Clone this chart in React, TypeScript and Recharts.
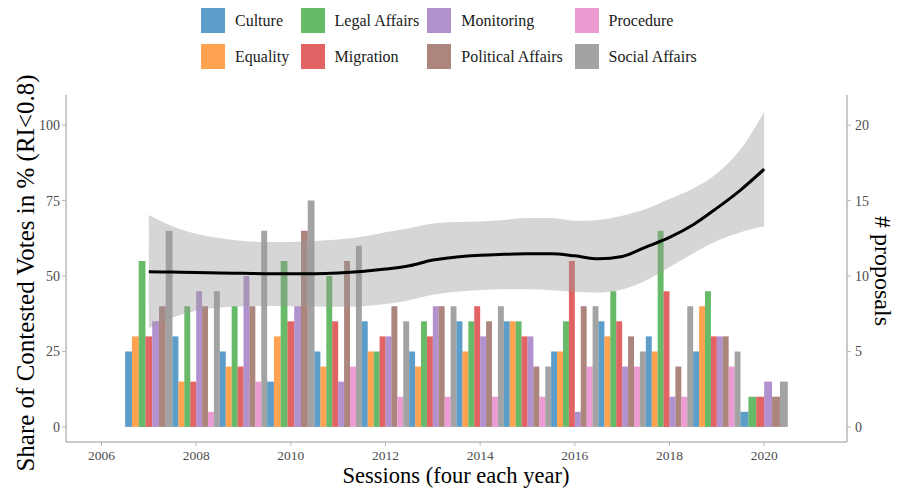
import React from "react";
import {
  ComposedChart,
  Area,
  Line,
  XAxis,
  YAxis,
  ReferenceArea,
  Label,
} from "recharts";

const FONT = "'Liberation Serif', 'DejaVu Serif', serif";

// proposals per year and policy area (0 = none that year)
const years = [2007, 2008, 2009, 2010, 2011, 2012, 2013, 2014, 2015, 2016, 2017, 2018, 2019, 2020];
const categories = [
  "Culture",
  "Equality",
  "Legal Affairs",
  "Migration",
  "Monitoring",
  "Political Affairs",
  "Procedure",
  "Social Affairs",
];
const colors = ["#1f77b4", "#ff7f0e", "#2ca02c", "#d62728", "#9467bd", "#8c564b", "#e377c2", "#7f7f7f"];

const culture = [5, 6, 5, 3, 5, 7, 5, 7, 7, 5, 7, 6, 5, 1];
const equality = [6, 3, 4, 6, 4, 5, 4, 5, 7, 5, 6, 5, 8, 0];
const legalAffairs = [11, 8, 8, 11, 10, 5, 7, 7, 7, 7, 9, 13, 9, 2];
const migration = [6, 3, 4, 7, 7, 6, 6, 8, 6, 11, 7, 9, 6, 2];
const monitoring = [7, 9, 10, 8, 3, 6, 8, 6, 6, 1, 4, 2, 6, 3];
const politicalAffairs = [8, 8, 8, 13, 11, 8, 8, 7, 4, 8, 6, 4, 6, 2];
const procedure = [0, 1, 3, 0, 4, 2, 2, 2, 2, 4, 4, 2, 4, 0];
const socialAffairs = [13, 9, 13, 15, 12, 7, 8, 8, 4, 8, 5, 8, 5, 3];

const counts = [culture, equality, legalAffairs, migration, monitoring, politicalAffairs, procedure, socialAffairs];

// smoothed share of contested votes (%) with its confidence band
const sessionYears = [
  2007, 2007.5, 2008, 2008.5, 2009, 2009.5, 2010, 2010.5, 2011, 2011.5, 2012, 2012.5, 2013, 2013.5,
  2014, 2014.5, 2015, 2015.5, 2016, 2016.5, 2017, 2017.5, 2018, 2018.5, 2019, 2019.5, 2020,
];
const shareFit = [
  51.4, 51.3, 51.2, 51.0, 50.9, 50.8, 50.8, 50.8, 51.0, 51.5, 52.3, 53.4, 55.3, 56.3,
  56.9, 57.2, 57.4, 57.4, 56.7, 55.7, 56.5, 59.6, 62.8, 67.0, 72.5, 78.5, 85.4,
];
const shareLow = [
  32.7, 36.2, 38.5, 39.6, 40.0, 40.1, 40.0, 39.9, 39.8, 40.0, 40.7, 42.0, 43.8, 44.8,
  45.4, 45.6, 45.6, 45.3, 44.8, 44.5, 45.5, 48.5, 52.9, 57.5, 61.6, 64.5, 66.5,
];
const shareHigh = [
  70.2, 66.5, 64.0, 62.5, 61.6, 61.3, 61.3, 61.6, 62.1, 63.0, 64.5, 65.8, 67.4, 67.9,
  68.1, 68.6, 69.2, 69.2, 68.3, 68.6, 70.0, 72.2, 75.5, 79.0, 84.0, 92.0, 104.4,
];

const trend = sessionYears.map((year, i) => ({
  year,
  fit: shareFit[i],
  band: [shareLow[i], shareHigh[i]],
}));

// dodge the areas present in a year side by side across that year's width
const bars = years.flatMap((year, yi) => {
  const present = counts
    .map((series, ci) => ({ ci, value: series[yi] }))
    .filter((d) => d.value > 0);
  const n = present.length;
  return present.map((d, i) => ({
    key: `${year}-${d.ci}`,
    x1: year - 0.5 + i / n,
    x2: year - 0.5 + (i + 1) / n,
    value: d.value,
    color: colors[d.ci],
  }));
});

const legendColumns = [99.6, 126.7, 147.3, 120];
const legendOrder = [0, 2, 4, 6, 1, 3, 5, 7];

function LegendGrid() {
  return (
    <div
      style={{
        position: "absolute",
        left: 201,
        top: 8,
        display: "grid",
        gridTemplateColumns: legendColumns.map((w) => `${w}px`).join(" "),
        rowGap: 11,
        fontFamily: FONT,
        fontSize: 16,
        color: "#1a1a1a",
      }}
    >
      {legendOrder.map((ci) => (
        <div key={ci} style={{ display: "flex", alignItems: "center", height: 25 }}>
          <span
            style={{
              width: 24,
              height: 25,
              background: colors[ci],
              opacity: 0.72,
              marginRight: 10,
              flex: "none",
            }}
          />
          <span style={{ whiteSpace: "nowrap" }}>{categories[ci]}</span>
        </div>
      ))}
    </div>
  );
}

const tickStyle = { fill: "#4d4d4d", fontSize: 14, fontFamily: FONT };
const frame = { stroke: "#b8b8b8", strokeWidth: 1.5 };

export default function App() {
  return (
    <div style={{ position: "absolute", left: 0, top: 0, width: 897, height: 489, background: "#fff" }}>
      <LegendGrid />
      <ComposedChart
        width={897}
        height={489}
        data={trend}
        margin={{ top: 95, right: 0, bottom: 0, left: 0 }}
      >
        <XAxis
          dataKey="year"
          type="number"
          domain={[2005.25, 2021.75]}
          allowDataOverflow
          ticks={[2006, 2008, 2010, 2012, 2014, 2016, 2018, 2020]}
          tick={{ ...tickStyle, fontSize: 13.5 }}
          tickLine={{ stroke: "#b8b8b8" }}
          axisLine={frame}
          tickSize={4}
          tickMargin={4}
          height={47}
        >
          <Label
            content={() => (
              <text x={456} y={483} textAnchor="middle" fontFamily={FONT} fontSize={22.5} fill="#000">
                Sessions (four each year)
              </text>
            )}
          />
        </XAxis>
        <XAxis
          xAxisId="top"
          orientation="top"
          dataKey="year"
          type="number"
          domain={[2005.25, 2021.75]}
          allowDataOverflow
          tick={false}
          tickLine={false}
          axisLine={frame}
          height={0}
        />
        <YAxis
          yAxisId="left"
          type="number"
          domain={[-5, 110]}
          allowDataOverflow
          ticks={[0, 25, 50, 75, 100]}
          tick={tickStyle}
          tickLine={{ stroke: "#b8b8b8" }}
          axisLine={frame}
          tickSize={4}
          tickMargin={2}
          width={66}
        >
          <Label
            content={() => (
              <text
                x={25}
                y={273}
                transform="rotate(-90 25 273)"
                textAnchor="middle"
                dominantBaseline="central"
                fontFamily={FONT}
                fontSize={25}
                fill="#000"
              >
                Share of Contested Votes in % (RI&lt;0.8)
              </text>
            )}
          />
        </YAxis>
        <YAxis
          yAxisId="right"
          orientation="right"
          type="number"
          domain={[-1, 22]}
          allowDataOverflow
          ticks={[0, 5, 10, 15, 20]}
          tick={tickStyle}
          tickLine={{ stroke: "#b8b8b8" }}
          axisLine={frame}
          tickSize={4}
          tickMargin={4}
          width={50}
        >
          <Label
            content={() => (
              <text
                x={883}
                y={271}
                transform="rotate(90 883 271)"
                textAnchor="middle"
                dominantBaseline="central"
                fontFamily={FONT}
                fontSize={24}
                fill="#000"
              >
                # proposals
              </text>
            )}
          />
        </YAxis>

        {bars.map((b) => (
          <ReferenceArea
            key={b.key}
            yAxisId="right"
            x1={b.x1}
            x2={b.x2}
            y1={0}
            y2={b.value}
            fill={b.color}
            fillOpacity={0.72}
            stroke="none"
            ifOverflow="visible"
          />
        ))}

        <Area
          yAxisId="left"
          dataKey="band"
          type="monotone"
          fill="#999999"
          fillOpacity={0.4}
          stroke="none"
          isAnimationActive={false}
        />
        <Line
          yAxisId="left"
          dataKey="fit"
          type="monotone"
          stroke="#000"
          strokeWidth={3}
          dot={false}
          isAnimationActive={false}
        />
      </ComposedChart>
    </div>
  );
}
